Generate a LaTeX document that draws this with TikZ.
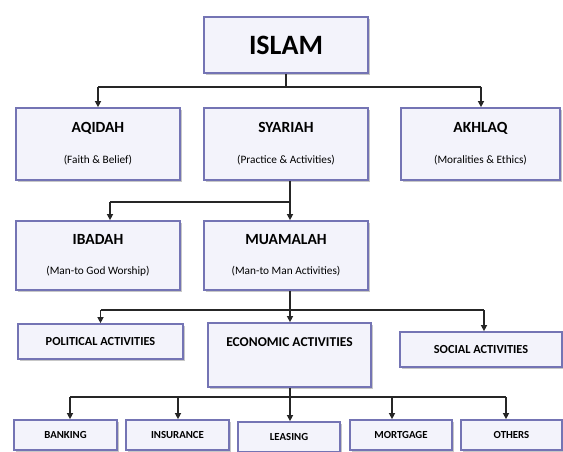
\documentclass[tikz,border=0pt]{standalone}
\usepackage{fontspec}
\setmainfont{Carlito}
\usetikzlibrary{arrows.meta,shadows}
\definecolor{boxline}{HTML}{7474B4}
\definecolor{boxfill}{HTML}{F3F3FB}
\newcommand\subtxt{\fontsize{11.3}{12}\selectfont\mdseries}
\begin{document}
\begin{tikzpicture}[x=1pt,y=-1pt,
  box/.style={draw=boxline, line width=1.7pt, fill=boxfill,
    drop shadow={shadow xshift=1.5pt, shadow yshift=-2.2pt, fill=black!40, opacity=.55},
    inner sep=0pt, align=center},
  twoline/.style={box, minimum width=164pt, font=\fontsize{15.5}{31}\selectfont\bfseries},
  midbox/.style={box, font=\fontsize{12.3}{14}\selectfont\bfseries},
  lowbox/.style={box, minimum height=30pt, font=\fontsize{10.8}{12}\selectfont\bfseries},
  conn/.style={line width=1.3pt, black!85},
  arr/.style={conn, -{Triangle[width=6pt,length=6pt]}},
]
\useasboundingbox (0,0) rectangle (563,452);
\clip (0,0) rectangle (563,452);

% top
\node[box, minimum width=164pt, minimum height=56pt, font=\fontsize{28}{30}\selectfont\bfseries] (islam) at (286,45) {ISLAM};

% row 2
\node[twoline, minimum height=72pt] (aqidah) at (98,144) {AQIDAH\\{\subtxt (Faith \& Belief)}};
\node[twoline, minimum height=72pt] (syariah) at (286,144) {SYARIAH\\{\subtxt (Practice \& Activities)}};
\node[twoline, minimum width=159pt, minimum height=72pt] (akhlaq) at (480.5,144) {AKHLAQ\\{\subtxt (Moralities \& Ethics)}};

% row 3
\node[twoline, minimum height=69pt, font=\fontsize{15.5}{30}\selectfont\bfseries] (ibadah) at (98,255.5) {IBADAH\\{\subtxt (Man-to God Worship)}};
\node[twoline, minimum height=69pt, font=\fontsize{15.5}{30}\selectfont\bfseries] (muamalah) at (286,255.5) {MUAMALAH\\{\subtxt (Man-to Man Activities)}};

% row 4
\node[midbox, minimum width=165pt, minimum height=35pt] (political) at (100.5,341.5) {POLITICAL ACTIVITIES};
\node[box, minimum width=163pt, minimum height=64pt,
  label={[anchor=north, yshift=-12pt, font=\fontsize{13.5}{15}\selectfont\bfseries]north:ECONOMIC ACTIVITIES}] (economic) at (289.5,355) {};
\node[midbox, minimum width=162pt, minimum height=35pt] (social) at (481,349.5) {SOCIAL ACTIVITIES};

% row 5
\node[lowbox, minimum width=103pt] (banking) at (65.5,435) {BANKING};
\node[lowbox, minimum width=103pt] (insurance) at (177.5,435) {INSURANCE};
\node[lowbox, minimum width=102pt] (leasing) at (289,437) {LEASING};
\node[lowbox, minimum width=102pt] (mortgage) at (401,435) {MORTGAGE};
\node[lowbox, minimum width=101pt] (others) at (511.5,435) {OTHERS};

% connectors: ISLAM
\coordinate (j1) at (286,87);
\coordinate (j1l) at (98,87);
\coordinate (j1r) at (481,87);
\draw[conn] (islam.south) -- (j1);
\draw[conn] (j1l) -- (j1r);
\draw[arr] (j1l) -- (aqidah.north);
\draw[arr] (j1r) -- (j1r |- akhlaq.north);

% SYARIAH
\coordinate (j2) at (290,202);
\coordinate (j2l) at (110,202);
\draw[conn] (j2 |- syariah.south) -- (j2);
\draw[conn] (j2l) -- (j2);
\draw[arr] (j2l) -- (j2l |- ibadah.north);
\draw[arr] (j2) -- (j2 |- muamalah.north);

% MUAMALAH
\coordinate (j3) at (290,310);
\coordinate (j3l) at (100.5,310);
\coordinate (j3r) at (484,310);
\draw[conn] (j3 |- muamalah.south) -- (j3);
\draw[conn] (j3l) -- (j3r);
\draw[arr] (j3l) -- (political.north);
\draw[arr] (j3) -- (j3 |- economic.north);
\draw[arr] (j3r) -- (j3r |- social.north);

% ECONOMIC
\coordinate (j4) at (290,397);
\coordinate (j4a) at (70,397);
\coordinate (j4b) at (178,397);
\coordinate (j4d) at (392,397);
\coordinate (j4e) at (506,397);
\draw[conn] (j4 |- economic.south) -- (j4);
\draw[conn] (j4a) -- (j4e);
\draw[arr] (j4a) -- (j4a |- banking.north);
\draw[arr] (j4b) -- (j4b |- insurance.north);
\draw[arr] (j4) -- (j4 |- leasing.north);
\draw[arr] (j4d) -- (j4d |- mortgage.north);
\draw[arr] (j4e) -- (j4e |- others.north);
\end{tikzpicture}
\end{document}
